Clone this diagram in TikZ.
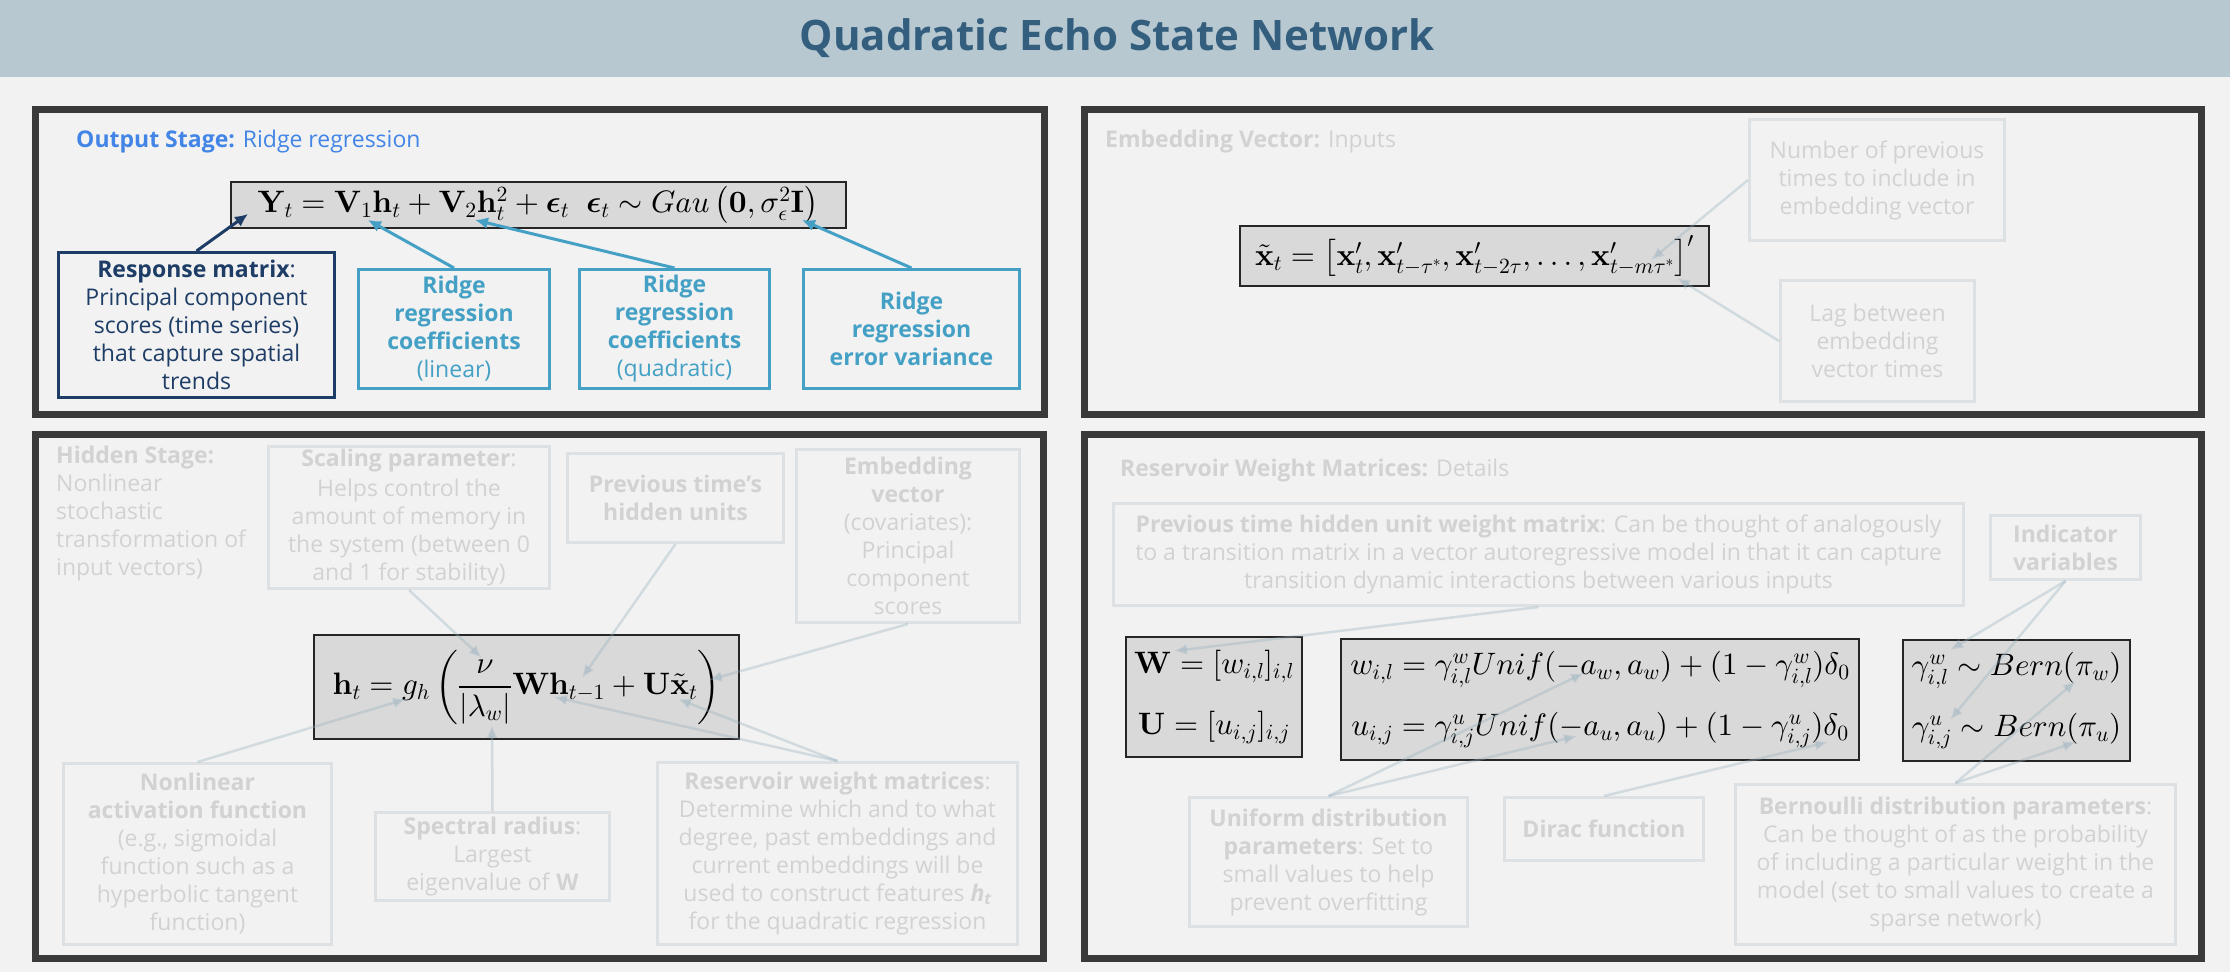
\documentclass[tikz,border=0pt]{standalone}
\usepackage{amsmath}
\usepackage[no-math]{fontspec}
\setmainfont{Open Sans}
\usepackage{bm}
\usepackage{xcolor}
\usepackage{tikz}
\usetikzlibrary{arrows.meta, positioning}

% scalable computer modern shapes for the large formulas
\DeclareFontShape{OT1}{cmr}{m}{n}{<->cmr10}{}
\DeclareFontShape{OT1}{cmr}{bx}{n}{<->cmbx10}{}
\DeclareFontShape{OML}{cmm}{m}{it}{<->cmmi10}{}
\DeclareFontShape{OML}{cmm}{b}{it}{<->cmmib10}{}
\DeclareFontShape{OMS}{cmsy}{m}{n}{<->cmsy10}{}
\DeclareFontShape{OMS}{cmsy}{b}{n}{<->cmbsy10}{}
\DeclareFontShape{OMX}{cmex}{m}{n}{<->cmex10}{}

\definecolor{bgcol}{HTML}{F2F2F2}
\definecolor{bannercol}{HTML}{B8C8D0}
\definecolor{titlecol}{HTML}{335E7E}
\definecolor{framecol}{HTML}{3A3A3A}
\definecolor{headblue}{HTML}{4285E6}
\definecolor{navy}{HTML}{1E3D66}
\definecolor{ridgecol}{HTML}{44A0C4}
\definecolor{fadetext}{HTML}{D2D2D2}
\definecolor{fadeline}{HTML}{DDE1E4}
\definecolor{fadearrow}{RGB}{150,175,190}
\definecolor{eqfill}{HTML}{D9D9D9}

\newcommand{\titlefont}{\fontsize{42}{50}\selectfont\bfseries}
\newcommand{\boxfont}{\fontsize{23}{28}\selectfont}
\newcommand{\eqfont}{\fontsize{31}{37}\selectfont}

\begin{document}
\begin{tikzpicture}[x=1pt, y=-1pt,
    panel/.style={draw=framecol, line width=7pt},
    heading/.style={anchor=west, inner sep=0pt, font=\boxfont},
    eqbox/.style={draw=black!85, fill=eqfill, line width=2pt, inner sep=0pt, align=center, font=\eqfont},
    navybox/.style={draw=navy, line width=3pt, text=navy, align=center, inner sep=0pt, font=\boxfont},
    ridgebox/.style={draw=ridgecol, line width=3pt, text=ridgecol, align=center, inner sep=0pt, font=\boxfont},
    fadebox/.style={draw=fadeline, line width=3pt, text=fadetext, align=center, inner sep=0pt, font=\boxfont},
    navyflow/.style={-{Latex[length=13pt,width=12pt]}, draw=navy, line width=3pt},
    ridgeflow/.style={-{Latex[length=13pt,width=12pt]}, draw=ridgecol, line width=3pt},
    fadeflow/.style={-{Latex[length=13pt,width=11pt]}, draw=fadearrow, draw opacity=0.35, fill opacity=0.35, line width=2.5pt},
  ]
  \useasboundingbox (0,0) rectangle (2230,972);
  \fill[bgcol] (0,0) rectangle (2230,972);
  \fill[bannercol] (0,0) rectangle (2230,77);
  \node[font=\titlefont, text=titlecol] (ttl) at (1117,38) {Quadratic Echo State Network};

  % four panels
  \node[panel, minimum width=1009, minimum height=305] (pOut) at (539.5,262) {};
  \node[panel, minimum width=1117, minimum height=305] (pEmb) at (1643,262) {};
  \node[panel, minimum width=1008, minimum height=524] (pHid) at (539.5,696.5) {};
  \node[panel, minimum width=1117, minimum height=524] (pRes) at (1643,696.5) {};

  % output stage
  \node[heading, text=headblue] (hOut) at (76,142) {\textbf{Output Stage:} Ridge regression};
  \node[eqbox, minimum width=615, minimum height=46] (eqY) at (538,205)
    {$\mathbf{Y}_t = \mathbf{V}_1\mathbf{h}_t + \mathbf{V}_2\mathbf{h}_t^2 + \bm{\epsilon}_t \;\; \bm{\epsilon}_t \sim Gau\left(\mathbf{0},\sigma_\epsilon^2\mathbf{I}\right)$};
  \node[navybox, minimum width=276, minimum height=145] (resp) at (196.5,325)
    {\textbf{Response matrix}:\\Principal component\\scores (time series)\\that capture spatial\\trends};
  \node[ridgebox, minimum width=191, minimum height=119] (lin) at (454,329)
    {\textbf{Ridge}\\\textbf{regression}\\\textbf{coefficients}\\(linear)};
  \node[ridgebox, minimum width=190, minimum height=119] (quad) at (674.5,329)
    {\textbf{Ridge}\\\textbf{regression}\\\textbf{coefficients}\\(quadratic)};
  \node[ridgebox, minimum width=216, minimum height=119] (errv) at (911.5,329)
    {\textbf{Ridge}\\\textbf{regression}\\\textbf{error variance}};
  \coordinate (tipY) at (248,214);
  \coordinate (tipV1) at (368,220);
  \coordinate (tipV2) at (475,220);
  \coordinate (tipSig) at (802,220);
  \draw[navyflow] (resp.north) -- (tipY);
  \draw[ridgeflow] (lin.north) -- (tipV1);
  \draw[ridgeflow] (quad.north) -- (tipV2);
  \draw[ridgeflow] (errv.north) -- (tipSig);

  % embedding vector
  \node[heading, text=fadetext] (hEmb) at (1105,142) {\textbf{Embedding Vector:} Inputs};
  \node[eqbox, minimum width=469, minimum height=60] (eqX) at (1474.5,256)
    {$\tilde{\mathbf{x}}_t = \left[\mathbf{x}'_t, \mathbf{x}'_{t-\tau^*}, \mathbf{x}'_{t-2\tau}, \ldots, \mathbf{x}'_{t-m\tau^*}\right]'$};
  \node[fadebox, minimum width=255, minimum height=121] (nprev) at (1877,180)
    {Number of previous\\times to include in\\embedding vector};
  \node[fadebox, minimum width=194, minimum height=121] (lag) at (1877.5,341)
    {Lag between\\embedding\\vector times};
  \coordinate (tipM) at (1651,260);
  \coordinate (tipPr) at (1677,278);
  \draw[fadeflow] (nprev.west) -- (tipM);
  \draw[fadeflow] (lag.west) -- (tipPr);

  % hidden stage
  \node[font=\boxfont, text=fadetext, align=left, anchor=north west, inner sep=0pt] (hHid) at (56,446)
    {\textbf{Hidden Stage:}\\Nonlinear\\stochastic\\transformation of\\input vectors)};
  \node[fadebox, minimum width=281, minimum height=142] (scal) at (409,517.5)
    {\textbf{Scaling parameter}:\\[1.5pt]Helps control the\\amount of memory in\\the system (between 0\\and 1 for stability)};
  \node[fadebox, minimum width=216, minimum height=89] (prev) at (675.5,498)
    {\textbf{Previous time’s}\\\textbf{hidden units}};
  \node[fadebox, minimum width=223, minimum height=173] (embv) at (908,536)
    {\textbf{Embedding}\\\textbf{vector}\\(covariates):\\Principal\\component\\scores};
  \node[eqbox, minimum width=425, minimum height=104] (eqH) at (526.5,687)
    {$\displaystyle \mathbf{h}_t = g_h\left(\frac{\nu}{|\lambda_w|}\mathbf{W}\mathbf{h}_{t-1} + \mathbf{U}\tilde{\mathbf{x}}_t\right)$};
  \node[fadebox, minimum width=268, minimum height=181] (nonl) at (197.5,854)
    {\textbf{Nonlinear}\\\textbf{activation function}\\(e.g., sigmoidal\\function such as a\\hyperbolic tangent\\function)};
  \node[fadebox, minimum width=234, minimum height=88] (spec) at (492.5,856.5)
    {\textbf{Spectral radius}:\\Largest\\eigenvalue of \textbf{W}};
  \node[fadebox, minimum width=360, minimum height=182] (resw) at (837.5,853.5)
    {\textbf{Reservoir weight matrices}:\\Determine which and to what\\degree, past embeddings and\\current embeddings will be\\used to construct features \textbf{\textit{h\textsubscript{t}}}\\for the quadratic regression};
  \coordinate (tipNu) at (482,658);
  \coordinate (tipWh) at (582,678);
  \coordinate (tipUx) at (709,680);
  \coordinate (tipG) at (406,699);
  \coordinate (tipLam) at (492,725);
  \coordinate (tipWh2) at (554,697);
  \coordinate (tipUx2) at (678,699);
  \draw[fadeflow] (scal.south) -- (tipNu);
  \draw[fadeflow] (prev.south) -- (tipWh);
  \draw[fadeflow] (embv.south) -- (tipUx);
  \draw[fadeflow] (nonl.north) -- (tipG);
  \draw[fadeflow] (spec.north) -- (tipLam);
  \draw[fadeflow] (resw.north) -- (tipWh2);
  \draw[fadeflow] (resw.north) -- (tipUx2);

  % reservoir weight matrices
  \node[heading, text=fadetext] (hRes) at (1120,471) {\textbf{Reservoir Weight Matrices:} Details};
  \node[fadebox, minimum width=850, minimum height=102] (prevW) at (1538.5,554.5)
    {\textbf{Previous time hidden unit weight matrix}: Can be thought of analogously\\to a transition matrix in a vector autoregressive model in that it can capture\\transition dynamic interactions between various inputs};
  \node[fadebox, minimum width=150, minimum height=64] (indic) at (2065.5,547.5)
    {\textbf{Indicator}\\\textbf{variables}};
  \node[eqbox, minimum width=176, minimum height=120] (eqWU) at (1214,697)
    {$\mathbf{W} = [w_{i,l}]_{i,l}$\\[24pt]$\mathbf{U} = [u_{i,j}]_{i,j}$};
  \node[eqbox, minimum width=518, minimum height=121] (eqWij) at (1600,699.5)
    {$w_{i,l} = \gamma^w_{i,l}Unif(-a_w,a_w) + (1-\gamma^w_{i,l})\delta_0$\\[24pt]$u_{i,j} = \gamma^u_{i,j}Unif(-a_u,a_u) + (1-\gamma^u_{i,j})\delta_0$};
  \node[eqbox, minimum width=227, minimum height=121] (eqGam) at (2016.5,700.5)
    {$\gamma^w_{i,l} \sim Bern(\pi_w)$\\[24pt]$\gamma^u_{i,j} \sim Bern(\pi_u)$};
  \node[fadebox, minimum width=278, minimum height=129] (unif) at (1328.5,862)
    {\textbf{Uniform distribution}\\\textbf{parameters}: Set to\\small values to help\\prevent overfitting};
  \node[fadebox, minimum width=199, minimum height=63] (dirac) at (1604,829)
    {\textbf{Dirac function}};
  \node[fadebox, minimum width=440, minimum height=160] (bern) at (1955.5,864.5)
    {\textbf{Bernoulli distribution parameters}:\\Can be thought of as the probability\\of including a particular weight in the\\model (set to small values to create a\\sparse network)};
  \coordinate (tipW) at (1174,651);
  \coordinate (tipGw) at (1950,650);
  \coordinate (tipGu) at (1950,720);
  \coordinate (tipAw) at (1584,673);
  \coordinate (tipAu) at (1577,736);
  \coordinate (tipD) at (1828,742);
  \coordinate (tipPw) at (2076,681);
  \coordinate (tipPu) at (2076,742);
  \draw[fadeflow] (prevW.south) -- (tipW);
  \draw[fadeflow] (indic.south) -- (tipGw);
  \draw[fadeflow] (indic.south) -- (tipGu);
  \draw[fadeflow] (unif.north) -- (tipAw);
  \draw[fadeflow] (unif.north) -- (tipAu);
  \draw[fadeflow] (dirac.north) -- (tipD);
  \draw[fadeflow] (bern.north) -- (tipPw);
  \draw[fadeflow] (bern.north) -- (tipPu);
\end{tikzpicture}
\end{document}
